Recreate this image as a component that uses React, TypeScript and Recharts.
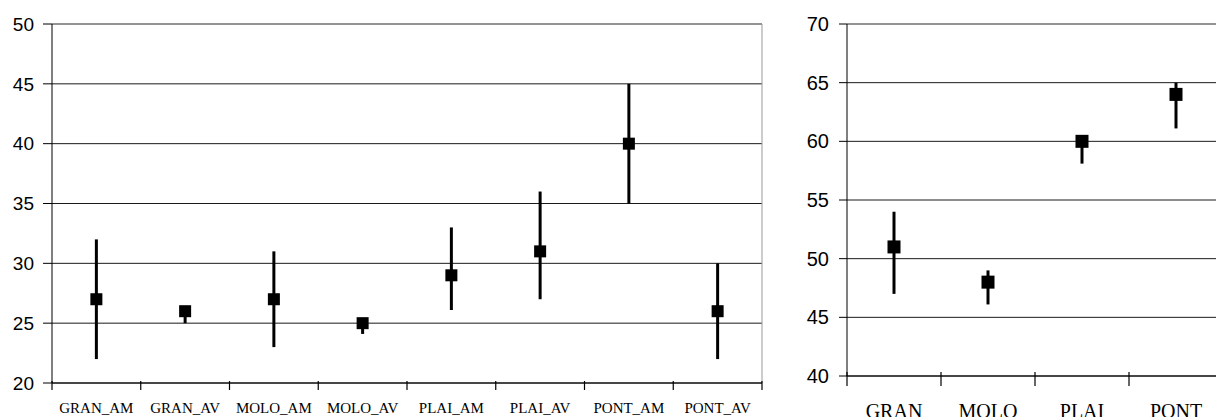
import React from 'react';
import { ComposedChart, Line, XAxis, YAxis, CartesianGrid, ErrorBar, ReferenceLine } from 'recharts';

// site level (upstream / downstream)
const sites = ['GRAN_AM', 'GRAN_AV', 'MOLO_AM', 'MOLO_AV', 'PLAI_AM', 'PLAI_AV', 'PONT_AM', 'PONT_AV'];
const siteMean = [27, 26, 27, 25, 29, 31, 40, 26];
const siteLow = [22, 25, 23, 24.1, 26.1, 27, 35, 22];
const siteHigh = [32, 26.3, 31, 25.3, 33, 36, 45, 30];

// river level
const rivers = ['GRAN', 'MOLO', 'PLAI', 'PONT'];
const riverMean = [51, 48, 60, 64];
const riverLow = [47, 46.1, 58.1, 61.1];
const riverHigh = [54, 49, 60.4, 65];

const leftYTicks = [20, 25, 30, 35, 40, 45, 50];
const rightYTicks = [40, 45, 50, 55, 60, 65, 70];

const buildRows = (mean: number[], low: number[], high: number[]) =>
  mean.map((m, i) => ({ x: i + 0.5, mean: m, err: [m - low[i], high[i] - m] }));

const siteRows = buildRows(siteMean, siteLow, siteHigh);
const riverRows = buildRows(riverMean, riverLow, riverHigh);

// ticks at every boundary (integers) and every band centre (halves)
const halfSteps = (n: number) => Array.from({ length: n * 2 + 1 }, (_, i) => i / 2);

const serif = '"Liberation Serif", "Times New Roman", serif';
const sans = '"Liberation Sans", Arial, sans-serif';

// integer ticks draw the tick mark, half ticks draw the category label
function makeXTick(labels: string[], fontSize: number, labelDy: number, up: number, down: number) {
  return (props: any) => {
    const { x, y, payload } = props;
    const v = payload.value;
    if (Number.isInteger(v)) {
      return <line x1={x} x2={x} y1={y - up} y2={y + down} stroke='#000' strokeWidth={1.2} />;
    }
    return (
      <text x={x} y={y + labelDy} textAnchor='middle' fontFamily={serif} fontSize={fontSize} fill='#000'>
        {labels[Math.floor(v)]}
      </text>
    );
  };
}

const squareDot = (size: number) => (p: any) => (
  <rect key={p.index} x={p.cx - size / 2} y={p.cy - size / 2} width={size} height={size} fill='#000' />
);

export default function App() {
  return (
    <div style={{ position: 'absolute', left: 0, top: 0, width: 1216, height: 417, overflow: 'hidden', background: '#fff' }}>
      <div style={{ position: 'absolute', left: 0, top: 0 }}>
        <ComposedChart width={775} height={417} data={siteRows} margin={{ top: 24, right: 13, bottom: 0, left: 0 }}>
          <CartesianGrid vertical={false} stroke='#1a1a1a' />
          <XAxis
            dataKey='x'
            type='number'
            domain={[0, sites.length]}
            ticks={halfSteps(sites.length)}
            interval={0}
            height={34}
            tickSize={0}
            tickLine={false}
            stroke='#000'
            tick={makeXTick(sites, 15, 27.5, 4, 5)}
          />
          <YAxis
            type='number'
            domain={[20, 50]}
            ticks={leftYTicks}
            width={52}
            tickSize={9}
            tickMargin={9}
            stroke='#000'
            tick={{ fill: '#000', fontSize: 19, fontFamily: sans }}
          />
          <ReferenceLine y={50} stroke='#999' />
          <ReferenceLine x={sites.length} stroke='#999' />
          <Line dataKey='mean' stroke='none' dot={squareDot(12)} activeDot={false} isAnimationActive={false}>
            <ErrorBar dataKey='err' direction='y' width={0} stroke='#000' strokeWidth={3} />
          </Line>
        </ComposedChart>
      </div>
      <div style={{ position: 'absolute', left: 790, top: 0 }}>
        <ComposedChart width={438} height={417} data={riverRows} margin={{ top: 24, right: 5, bottom: 0, left: 0 }}>
          <CartesianGrid vertical={false} stroke='#1a1a1a' />
          <XAxis
            dataKey='x'
            type='number'
            domain={[0, rivers.length]}
            ticks={halfSteps(rivers.length)}
            interval={0}
            height={41}
            tickSize={0}
            tickLine={false}
            stroke='#000'
            tick={makeXTick(rivers, 20, 40, 6, 8)}
          />
          <YAxis
            type='number'
            domain={[40, 70]}
            ticks={rightYTicks}
            width={57}
            tickSize={8}
            tickMargin={10}
            stroke='#000'
            tick={{ fill: '#000', fontSize: 20, fontFamily: sans }}
          />
          <ReferenceLine y={70} stroke='#999' />
          <Line dataKey='mean' stroke='none' dot={squareDot(13)} activeDot={false} isAnimationActive={false}>
            <ErrorBar dataKey='err' direction='y' width={0} stroke='#000' strokeWidth={3} />
          </Line>
        </ComposedChart>
      </div>
    </div>
  );
}
